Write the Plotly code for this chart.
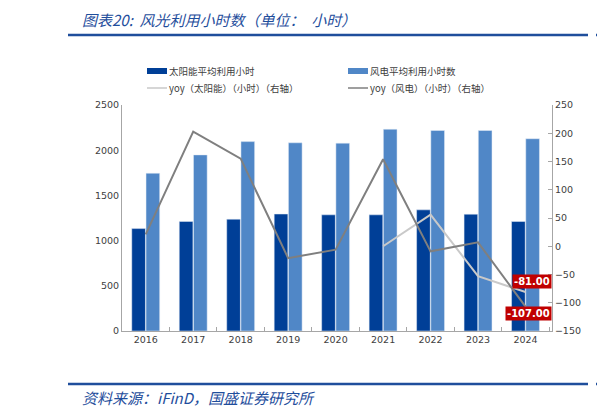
import plotly.graph_objects as go

years = ["2016", "2017", "2018", "2019", "2020", "2021", "2022", "2023", "2024"]
solar_hours = [1133, 1212, 1237, 1294, 1285, 1285, 1340, 1292, 1211]
wind_hours = [1745, 1948, 2095, 2082, 2078, 2232, 2218, 2218, 2127]
solar_yoy = [None, None, None, None, None, 0, 56, -53, -81]
wind_yoy = [21, 203, 155, -21, -6, 154, -9, 7, -107]

names = ["太阳能平均利用小时", "风电平均利用小时数",
         "yoy（太阳能）（小时）（右轴）", "yoy（风电）（小时）（右轴）"]
colors = ["#003f97", "#5087c7", "#c9c9c9", "#7f7f7f"]

# page body has an 8px default margin, so lay out in page pixels minus that
OFF = 8
W, H = 605, 416
L, R, T, B = 122 - OFF, 605 - (552 - OFF), 105 - OFF, 416 - (331 - OFF)


def px(x):
    return (x - OFF - L) / (W - L - R)


def py(y):
    return (H - B - (y - OFF)) / (H - T - B)


fig = go.Figure()
fig.add_trace(go.Bar(x=years, y=solar_hours, name=names[0], marker_color=colors[0]))
fig.add_trace(go.Bar(x=years, y=wind_hours, name=names[1], marker_color=colors[1]))
fig.add_trace(go.Scatter(x=years, y=solar_yoy, name=names[2], yaxis="y2", mode="lines",
                         line=dict(color=colors[2], width=2)))
fig.add_trace(go.Scatter(x=years, y=wind_yoy, name=names[3], yaxis="y2", mode="lines",
                         line=dict(color=colors[3], width=2)))

tickfont = dict(family="DejaVu Sans", size=9.5, color="#404040")
fig.update_layout(
    width=W, height=H, margin=dict(l=L, r=R, t=T, b=B),
    paper_bgcolor="white", plot_bgcolor="white", showlegend=False,
    barmode="group", bargap=0.4, bargroupgap=0.04,
    xaxis=dict(type="category", showline=True, linecolor="#a6a6a6", linewidth=1,
               tickfont=tickfont, ticks="inside", ticklen=4, tickcolor="#a6a6a6",
               tickson="boundaries", showgrid=False, tickangle=0),
    yaxis=dict(range=[0, 2500], dtick=500, showline=True, linecolor="#a6a6a6",
               showgrid=False, zeroline=False, tickfont=tickfont, ticks=""),
    yaxis2=dict(range=[-150, 250], dtick=50, overlaying="y", side="right", showline=True,
                linecolor="#a6a6a6", showgrid=False, zeroline=False, tickfont=tickfont,
                ticks="inside", ticklen=4, tickcolor="#a6a6a6"),
)

# data labels for the last year (x given as category index)
last = len(years) - 1
fig.add_annotation(x=last, y=solar_yoy[-1], xref="x", yref="y2", text="<b>%.2f</b>" % solar_yoy[-1],
                   showarrow=False, xshift=6, yshift=11, bgcolor="#c00000",
                   font=dict(family="DejaVu Sans", size=10, color="white"), borderpad=1)
fig.add_annotation(x=last, y=wind_yoy[-1], xref="x", yref="y2", text="<b>%.2f</b>" % wind_yoy[-1],
                   showarrow=False, xshift=3, yshift=-7, bgcolor="#c00000",
                   font=dict(family="DejaVu Sans", size=10, color="white"), borderpad=1)

# hand-drawn legend to match the original layout
lfont = dict(family="Noto Sans CJK SC", size=9.5, color="#404040")
rows = [(147, 71), (348, 71), (147, 88), (348, 88)]
for i, (lx, ly) in enumerate(rows):
    if i < 2:
        fig.add_shape(type="rect", xref="paper", yref="paper", x0=px(lx), x1=px(lx + 20),
                      y0=py(ly + 3), y1=py(ly - 3), fillcolor=colors[i], line_width=0)
    else:
        fig.add_shape(type="line", xref="paper", yref="paper", x0=px(lx), x1=px(lx + 20),
                      y0=py(ly), y1=py(ly), line=dict(color=colors[i], width=1.5))
    fig.add_annotation(xref="paper", yref="paper", x=px(lx + 20), y=py(ly), text=names[i],
                       showarrow=False, xanchor="left", yanchor="middle", font=lfont)

# header / footer
blue = "#1f4e9c"
fig.add_annotation(xref="paper", yref="paper", x=px(80), y=py(19),
                   text="<i>图表20:  风光利用小时数（单位：  小时）</i>", showarrow=False,
                   xanchor="left", yanchor="middle",
                   font=dict(family="Noto Sans CJK SC", size=15, color=blue))
for yy in (35, 384):
    fig.add_shape(type="line", xref="paper", yref="paper", x0=px(68), x1=px(588), y0=py(yy), y1=py(yy),
                  line=dict(color=blue, width=2.5))
    fig.add_shape(type="line", xref="paper", yref="paper", x0=px(596), x1=px(605), y0=py(yy), y1=py(yy),
                  line=dict(color=blue, width=2.5))
fig.add_annotation(xref="paper", yref="paper", x=px(80), y=py(397),
                   text="<i>资料来源：iFinD，国盛证券研究所</i>", showarrow=False,
                   xanchor="left", yanchor="middle",
                   font=dict(family="Noto Sans CJK SC", size=15, color=blue))

fig.write_html("out.html")
